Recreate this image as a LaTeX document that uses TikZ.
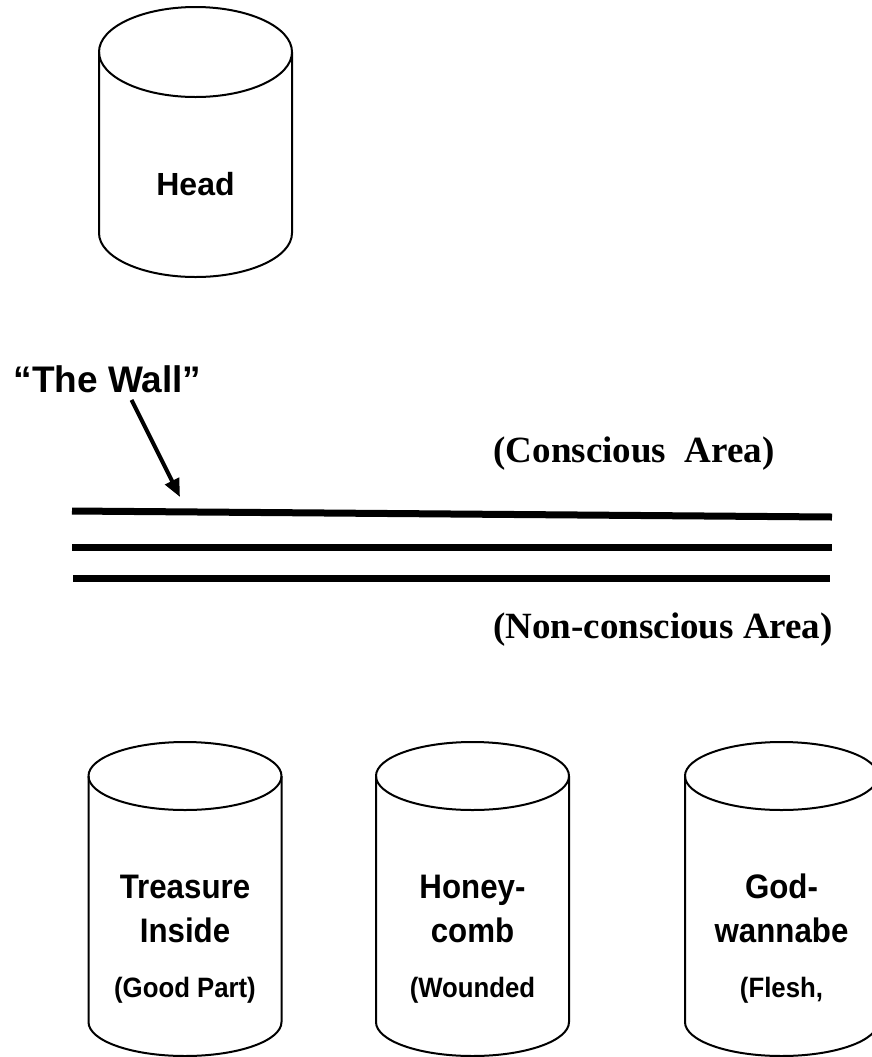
\documentclass[tikz,border=0pt]{standalone}
\usepackage{fontspec}
\setmainfont{Liberation Serif}
\setsansfont{Liberation Sans}
\newfontfamily\drumfont[FakeStretch=0.92]{Liberation Sans}
\usetikzlibrary{arrows.meta}

\begin{document}
\begin{tikzpicture}[x=0.5pt,y=-0.5pt,line join=round,
    drum/.style={draw,line width=1pt},
    wall line/.style={line width=3.5pt},
    wall arrow/.style={-{Triangle[length=9pt,width=7.5pt]},line width=2pt,shorten <=4pt},
    drum label/.style={font=\drumfont\bfseries\fontsize{17}{22}\selectfont,align=center,inner sep=0pt},
    area label/.style={font=\rmfamily\bfseries\fontsize{18.5}{22}\selectfont,inner sep=0pt,anchor=base}]

    \useasboundingbox (0,0) rectangle (872,1057);
    \clip (0,0) rectangle (872,1057);

    % head drum
    \draw[drum] (99,52) -- (99,233) arc[start angle=180,end angle=0,x radius=96.5,y radius=44] -- (292,52);
    \draw[drum] (195.5,52) ellipse[x radius=96.5,y radius=45];
    \node[drum label, anchor=base, font=\sffamily\bfseries\fontsize{16}{20}\selectfont] (head) at (195.5,195) {Head};

    % the three drums below
    \foreach \cx in {185,472.5,781.5}{
        \draw[drum] (\cx-96.5,776) -- (\cx-96.5,1022) arc[start angle=180,end angle=0,x radius=96.5,y radius=34] -- (\cx+96.5,776);
        \draw[drum] (\cx,776) ellipse[x radius=96.5,y radius=34];
    }

    \node[drum label, anchor=base] (treasure) at (185,997) {Treasure\\Inside\\[5.5pt]{\fontsize{14}{16}\selectfont(Good Part)}};
    \node[drum label, anchor=base] (honey) at (472.5,997) {Honey-\\comb\\[5.5pt]{\fontsize{14}{16}\selectfont(Wounded}};
    \node[drum label, anchor=base] (god) at (781.5,997) {God-\\wannabe\\[5.5pt]{\fontsize{14}{16}\selectfont(Flesh,}};

    % the wall
    \draw[wall line] (72,511) -- (832,517);
    \draw[wall line] (72,547) -- (832,547);
    \draw[wall line] (73,578) -- (830,578);

    \node[drum label, anchor=base, font=\sffamily\bfseries\fontsize{18.5}{22}\selectfont] (wall) at (107.5,392) {“The Wall”};
    \coordinate (tip) at (180,497);
    \draw[wall arrow] ([xshift=10.25pt]wall.south) -- (tip);

    \node[area label] (conscious) at (634,462) {(Conscious\ \ Area)};
    \node[area label] (nonconscious) at (663,638) {(Non-conscious Area)};
\end{tikzpicture}
\end{document}
